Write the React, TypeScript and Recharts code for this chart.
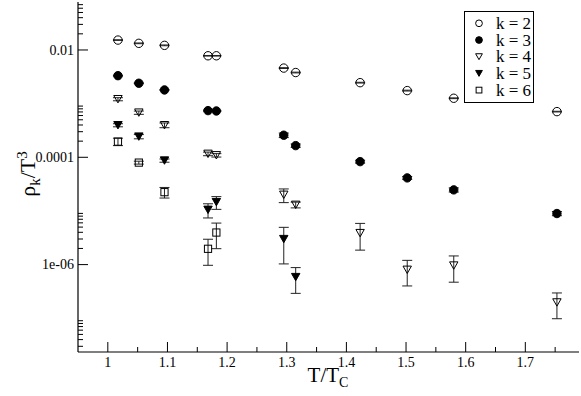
import { ScatterChart, Scatter, XAxis, YAxis, ErrorBar } from "recharts";

// T/Tc values of the measurements
const temps = [1.017, 1.052, 1.095, 1.168, 1.182, 1.295, 1.315, 1.423, 1.502, 1.58, 1.753];

const k2Values = [0.0153, 0.0133, 0.0122, 0.0078, 0.0078, 0.0046, 0.0038, 0.00246, 0.00175, 0.00126, 0.00071];
const k2Errors = [0.0002, 0.0002, 0.0002, 0.0001, 0.0001, 0.00008, 0.00006, 0.00004, 0.00003, 0.00002, 0.00001];

const k3Values = [3.32e-3, 2.4e-3, 1.8e-3, 7.41e-4, 7.3e-4, 2.58e-4, 1.65e-4, 8.3e-5, 4.13e-5, 2.47e-5, 8.95e-6];
const k3Errors = [5e-5, 4e-5, 3e-5, 1.5e-5, 1.5e-5, 2.5e-5, 1.2e-5, 5e-6, 2.5e-6, 2.2e-6, 8e-7];

const k4Values = [1.21e-3, 6.8e-4, 3.96e-4, 1.16e-4, 1.09e-4, 2.0e-5, 1.3e-5, 3.86e-6, 8.0e-7, 9.6e-7, 1.97e-7];
const k4Errors = [8e-5, 4.8e-5, 4e-5, 9e-6, 8e-6, 5.7e-6, 1.6e-6, 2.0e-6, 4.0e-7, 4.9e-7, 9.9e-8];

const k5Values = [3.96e-4, 2.43e-4, 8.69e-5, 1.05e-5, 1.46e-5, 2.99e-6, 5.85e-7];
const k5Errors = [2.6e-5, 2.2e-5, 6e-6, 3.1e-6, 3.9e-6, 1.96e-6, 2.94e-7];

const k6Values = [1.96e-4, 7.96e-5, 2.24e-5, 1.97e-6, 3.96e-6];
const k6Errors = [3.1e-5, 5e-6, 5e-6, 1.0e-6, 1.98e-6];

const xMajorTicks = [1, 1.1, 1.2, 1.3, 1.4, 1.5, 1.6, 1.7];
const xLabels = ["1", "1.1", "1.2", "1.3", "1.4", "1.5", "1.6", "1.7"];
const xMinorTicks = [1.05, 1.15, 1.25, 1.35, 1.45, 1.55, 1.65, 1.75];

const yMajorTicks = [1e-6, 1e-4, 1e-2];
const yLabels = ["1e-06", "0.0001", "0.01"];
const yMinorTicks = [
  3e-8, 4e-8, 5e-8, 6e-8, 7e-8, 8e-8, 9e-8,
  2e-6, 3e-6, 4e-6, 5e-6, 6e-6, 7e-6, 8e-6, 9e-6,
  2e-4, 3e-4, 4e-4, 5e-4, 6e-4, 7e-4, 8e-4, 9e-4,
  0.02, 0.03, 0.04, 0.05, 0.06, 0.07,
];

const legendNames = ["k = 2", "k = 3", "k = 4", "k = 5", "k = 6"];

const X_DOMAIN = [0.95, 1.79];
const Y_DOMAIN = [2.35e-8, 0.0784];
const FONT = "Liberation Serif, serif";

const xTicks = [...xMajorTicks, ...xMinorTicks].sort((a, b) => a - b);
const yTicks = [...yMajorTicks, ...yMinorTicks].sort((a, b) => a - b);

const toRows = (vals: number[], errs: number[]) =>
  vals.map((v, i) => ({ t: temps[i], v, err: errs[i] }));

const findIdx = (arr: number[], v: number) =>
  arr.findIndex((a) => Math.abs(a - v) < Math.abs(v) * 1e-6);

type MarkerKind = "circleOpen" | "circleFilled" | "triDownOpen" | "triDownFilled" | "squareOpen";

const Marker = ({ cx, cy, kind, s = 1 }: { cx: number; cy: number; kind: MarkerKind; s?: number }) => {
  if (cx == null || cy == null) return null;
  if (kind === "circleOpen" || kind === "circleFilled") {
    return (
      <circle
        cx={cx}
        cy={cy}
        r={4.2 * s}
        fill={kind === "circleFilled" ? "#000" : "none"}
        stroke="#000"
        strokeWidth={1}
      />
    );
  }
  if (kind === "squareOpen") {
    const h = 3.6 * s;
    return <rect x={cx - h} y={cy - h} width={2 * h} height={2 * h} fill="none" stroke="#000" strokeWidth={1} />;
  }
  const w = 4.2 * s;
  const h = 3.7 * s;
  return (
    <polygon
      points={`${cx - w},${cy - h} ${cx + w},${cy - h} ${cx},${cy + h}`}
      fill={kind === "triDownFilled" ? "#000" : "none"}
      stroke="#000"
      strokeWidth={1}
    />
  );
};

const BottomTick = (props: any) => {
  const { x, y, payload } = props;
  const idx = findIdx(xMajorTicks, payload.value);
  const major = idx >= 0;
  return (
    <g>
      <line x1={x} x2={x} y1={y} y2={y - (major ? 10 : 5)} stroke="#000" strokeWidth={1} />
      {major && (
        <text x={x} y={y + 14.7} textAnchor="middle" fontSize={14} fontFamily={FONT} fill="#000">
          {xLabels[idx]}
        </text>
      )}
    </g>
  );
};

const TopTick = (props: any) => {
  const { x, y, payload } = props;
  const major = findIdx(xMajorTicks, payload.value) >= 0;
  return <line x1={x} x2={x} y1={y} y2={y + (major ? 10 : 5)} stroke="#000" strokeWidth={1} />;
};

const LeftTick = (props: any) => {
  const { x, y, payload } = props;
  const idx = findIdx(yMajorTicks, payload.value);
  const major = idx >= 0;
  return (
    <g>
      <line x1={x} x2={x + (major ? 10 : 5)} y1={y} y2={y} stroke="#000" strokeWidth={1} />
      {major && (
        <text x={x - 4} y={y + 4.8} textAnchor="end" fontSize={14} fontFamily={FONT} fill="#000">
          {yLabels[idx]}
        </text>
      )}
    </g>
  );
};

const RightTick = (props: any) => {
  const { x, y, payload } = props;
  const major = findIdx(yMajorTicks, payload.value) >= 0;
  return <line x1={x} x2={x - (major ? 10 : 5)} y1={y} y2={y} stroke="#000" strokeWidth={1} />;
};

const series: { kind: MarkerKind; rows: { t: number; v: number; err: number }[] }[] = [
  { kind: "circleOpen", rows: toRows(k2Values, k2Errors) },
  { kind: "circleFilled", rows: toRows(k3Values, k3Errors) },
  { kind: "triDownOpen", rows: toRows(k4Values, k4Errors) },
  { kind: "triDownFilled", rows: toRows(k5Values, k5Errors) },
  { kind: "squareOpen", rows: toRows(k6Values, k6Errors) },
];

export default function App() {
  return (
    <div style={{ position: "absolute", left: 0, top: 0, width: 581, height: 396, background: "#fff" }}>
      <ScatterChart width={581} height={396} margin={{ top: 2, right: 2, bottom: 0, left: 0 }}>
        <XAxis
          dataKey="t"
          type="number"
          domain={X_DOMAIN}
          allowDataOverflow
          ticks={xTicks}
          interval={0}
          tick={<BottomTick />}
          tickSize={0}
          tickMargin={0}
          tickLine={false}
          axisLine={{ stroke: "#000", strokeWidth: 1.2 }}
          height={44}
        />
        <XAxis
          xAxisId="top"
          orientation="top"
          type="number"
          domain={X_DOMAIN}
          allowDataOverflow
          ticks={xTicks}
          interval={0}
          tick={<TopTick />}
          tickSize={0}
          tickMargin={0}
          tickLine={false}
          axisLine={{ stroke: "#000", strokeWidth: 1.2 }}
          height={0}
        />
        <YAxis
          dataKey="v"
          type="number"
          scale="log"
          domain={Y_DOMAIN}
          allowDataOverflow
          ticks={yTicks}
          interval={0}
          tick={<LeftTick />}
          tickSize={0}
          tickMargin={0}
          tickLine={false}
          axisLine={{ stroke: "#000", strokeWidth: 1.2 }}
          width={78}
        />
        <YAxis
          yAxisId="right"
          orientation="right"
          type="number"
          scale="log"
          domain={Y_DOMAIN}
          allowDataOverflow
          ticks={yTicks}
          interval={0}
          tick={<RightTick />}
          tickSize={0}
          tickMargin={0}
          tickLine={false}
          axisLine={{ stroke: "#000", strokeWidth: 1.2 }}
          width={0}
        />
        {series.map((s, i) => (
          <Scatter
            key={i}
            name={legendNames[i]}
            data={s.rows}
            isAnimationActive={false}
            shape={(p: any) => <Marker cx={p.cx} cy={p.cy} kind={s.kind} />}
          >
            <ErrorBar dataKey="err" direction="y" width={5} stroke="#222" strokeWidth={1} />
          </Scatter>
        ))}
      </ScatterChart>

      <svg width={581} height={396} style={{ position: "absolute", left: 0, top: 0, pointerEvents: "none" }}>
        <text x={328} y={382} textAnchor="middle" fontSize={21} fontFamily={FONT} fill="#000">
          T/T<tspan dy={5} fontSize={14}>C</tspan>
        </text>
        <text
          x={35}
          y={174}
          transform="rotate(-90, 35, 174)"
          textAnchor="middle"
          fontSize={22}
          fontFamily={FONT}
          fill="#000"
        >
          ρ<tspan dy={5} fontSize={15}>k</tspan>
          <tspan dy={-5}>/T</tspan>
          <tspan dy={-8} fontSize={15}>3</tspan>
        </text>

        <rect x={464.5} y={11.5} width={69} height={91} fill="#fff" stroke="#000" strokeWidth={1} />
        {series.map((s, i) => (
          <g key={i}>
            <Marker cx={479} cy={23.3 + i * 16.7} kind={s.kind} s={0.8} />
            <text x={496} y={23.3 + i * 16.7 + 5.6} fontSize={17} fontFamily={FONT} fill="#000">
              {legendNames[i]}
            </text>
          </g>
        ))}
      </svg>
    </div>
  );
}
